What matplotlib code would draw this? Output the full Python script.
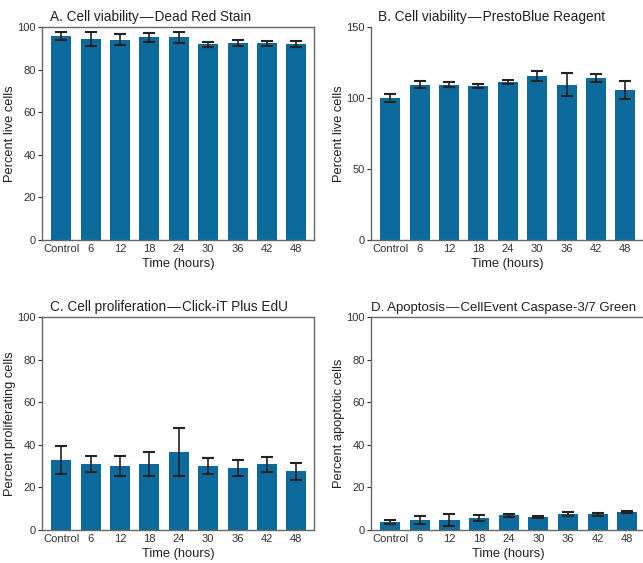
import matplotlib
matplotlib.use("Agg")
import matplotlib.pyplot as plt
import numpy as np

plt.rcParams['font.family'] = ['Liberation Sans', 'DejaVu Sans']

# categories
time_labels = ["Control", "6", "12", "18", "24", "30", "36", "42", "48"]

# A. Dead Red Stain
viab_red = [95.8, 94.3, 94.0, 95.2, 95.2, 91.9, 92.3, 92.3, 91.9]
viab_red_err = [1.7, 3.2, 2.6, 2.1, 2.5, 1.2, 1.4, 1.2, 1.4]

# B. PrestoBlue
viab_blue = [100.0, 109.3, 109.3, 108.4, 111.2, 115.4, 109.3, 114.0, 105.6]
viab_blue_err = [3.0, 2.6, 1.7, 1.4, 1.6, 3.3, 8.0, 3.0, 6.5]

# C. Click-iT EdU
prolif = [32.8, 30.9, 30.0, 30.9, 36.6, 30.0, 29.1, 30.9, 27.5]
prolif_err = [6.6, 3.8, 4.6, 5.5, 11.3, 3.8, 3.7, 3.6, 3.8]

# D. Caspase-3/7
apopt = [3.8, 4.7, 4.7, 5.6, 6.9, 6.1, 7.4, 7.4, 8.5]
apopt_err = [1.1, 1.8, 2.6, 1.6, 0.6, 0.7, 1.0, 0.7, 0.3]

bar_color = "#0c6a9c"
W, H = 643, 563
fig = plt.figure(figsize=(W / 100, H / 100), dpi=100)


def make_axes(left, top, right, bottom):
    return fig.add_axes([left / W, 1 - bottom / H, (right - left) / W, (bottom - top) / H])


def draw_panel(ax, vals, errs, ymax, yticks, ylabel, title, title_x, box=True, title_size=9.8):
    x = np.arange(len(time_labels))
    ax.bar(x, vals, width=0.68, color=bar_color, zorder=2)
    ax.errorbar(x, vals, yerr=errs, fmt="none", ecolor="#222222",
                elinewidth=1.2, capsize=4.5, capthick=1.5, zorder=3)
    ax.set_xlim(-0.65, 8.6)
    ax.set_ylim(0, ymax)
    ax.set_yticks(yticks)
    ax.set_xticks(x)
    ax.set_xticklabels(time_labels)
    ax.tick_params(axis="x", length=0, pad=3, labelsize=8, colors="#333333")
    ax.tick_params(axis="y", length=3, width=0.8, pad=1.5, labelsize=8,
                   colors="#333333", direction="out")
    for s in ax.spines.values():
        s.set_color("#666666")
        s.set_linewidth(1.0)
    if not box:
        ax.spines["top"].set_visible(False)
        ax.spines["right"].set_visible(False)
    ax.set_ylabel(ylabel, fontsize=9.3, color="#222222", labelpad=1)
    ax.set_xlabel("Time (hours)", fontsize=9.3, color="#222222", labelpad=3)
    ax.text(title_x, 1.012, title, transform=ax.transAxes, fontsize=title_size,
            color="#222222", ha="left", va="bottom")


axA = make_axes(42, 27, 314, 240)
draw_panel(axA, viab_red, viab_red_err, 100, [0, 20, 40, 60, 80, 100],
           "Percent live cells", "A. Cell viability\u200a\u2014\u200aDead Red Stain", 0.03)

axB = make_axes(371, 27, 643, 240)
draw_panel(axB, viab_blue, viab_blue_err, 150, [0, 50, 100, 150],
           "Percent live cells", "B. Cell viability\u200a\u2014\u200aPrestoBlue Reagent", 0.025,
           box=False)

axC = make_axes(42, 317, 314, 530)
draw_panel(axC, prolif, prolif_err, 100, [0, 20, 40, 60, 80, 100],
           "Percent proliferating cells", "C. Cell proliferation\u200a\u2014\u200aClick-iT Plus EdU", 0.03)

axD = make_axes(371, 317, 645, 530)
draw_panel(axD, apopt, apopt_err, 100, [0, 20, 40, 60, 80, 100],
           "Percent apoptotic cells", "D. Apoptosis\u200a\u2014\u200aCellEvent Caspase-3/7 Green", 0.0,
           title_size=9.5)

fig.savefig("out.png", dpi=100)
